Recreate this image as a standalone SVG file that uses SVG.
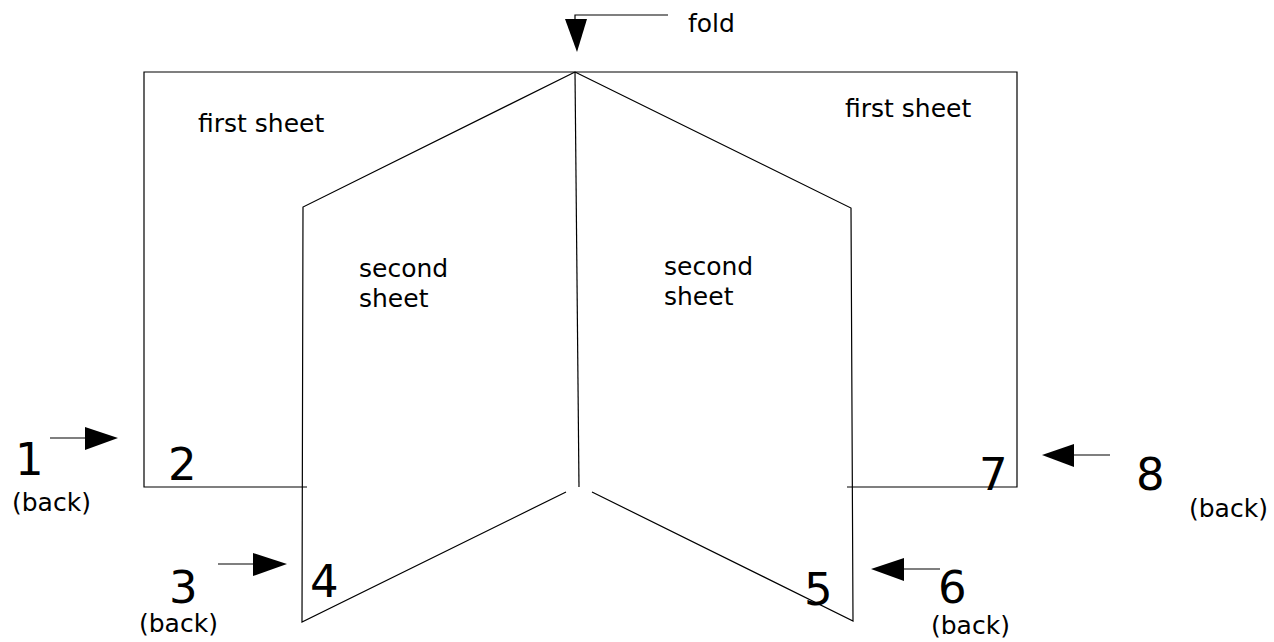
<svg xmlns="http://www.w3.org/2000/svg" width="1274" height="642" viewBox="0 0 1274 642">
<style>
.ln{stroke:#000;stroke-width:1.2;fill:none}
.ah{fill:#000;stroke:none}
.t{font-family:"DejaVu Sans",sans-serif;font-size:25px;fill:#000}
.n{font-family:"DejaVu Sans",sans-serif;font-size:45px;fill:#000}
</style>
<rect width="1274" height="642" fill="#fff"/>
<g id="first-sheet">
<polyline class="ln" points="307,487 144,487 144,72 1017,72 1017,487 847,487"/>
<text class="t" x="198" y="132">first sheet</text>
<text class="t" x="845" y="117">first sheet</text>
</g>
<g id="second-sheet-left">
<polyline class="ln" points="575,72 303,207 302,622 566,492"/>
<text class="t" x="359" y="277">second</text>
<text class="t" x="359" y="307">sheet</text>
</g>
<g id="second-sheet-right">
<polyline class="ln" points="575,72 851,208 853,621 592,492"/>
<text class="t" x="664" y="275">second</text>
<text class="t" x="664" y="305">sheet</text>
</g>
<g id="fold-line">
<line class="ln" x1="575" y1="72" x2="579" y2="487"/>
</g>
<g id="labels">
<text class="n" x="15" y="475">1</text>
<text class="t" x="12" y="511">(back)</text>
<text class="n" x="168" y="480">2</text>
<text class="n" x="169" y="603">3</text>
<text class="t" x="139" y="632">(back)</text>
<text class="n" x="310" y="597">4</text>
<text class="n" x="804" y="605">5</text>
<text class="n" x="938" y="603">6</text>
<text class="t" x="931" y="634">(back)</text>
<text class="n" x="979" y="490">7</text>
<text class="n" x="1136" y="490">8</text>
<text class="t" x="1189" y="517">(back)</text>
<text class="t" x="688" y="32">fold</text>
</g>
<g id="connectors">
<polyline class="ln" points="668,15 575,15 575,20"/>
<polygon class="ah" points="565,19 587,19 577,52"/>
<line class="ln" x1="50" y1="438" x2="86" y2="438"/>
<polygon class="ah" points="85,427 118,438 85,450"/>
<line class="ln" x1="218" y1="564" x2="254" y2="564"/>
<polygon class="ah" points="253,553 287,564 253,576"/>
<line class="ln" x1="903" y1="569" x2="940" y2="569"/>
<polygon class="ah" points="904,558 871,569 904,581"/>
<line class="ln" x1="1073" y1="455" x2="1110" y2="455"/>
<polygon class="ah" points="1074,444 1042,455 1074,467"/>
</g>
</svg>
